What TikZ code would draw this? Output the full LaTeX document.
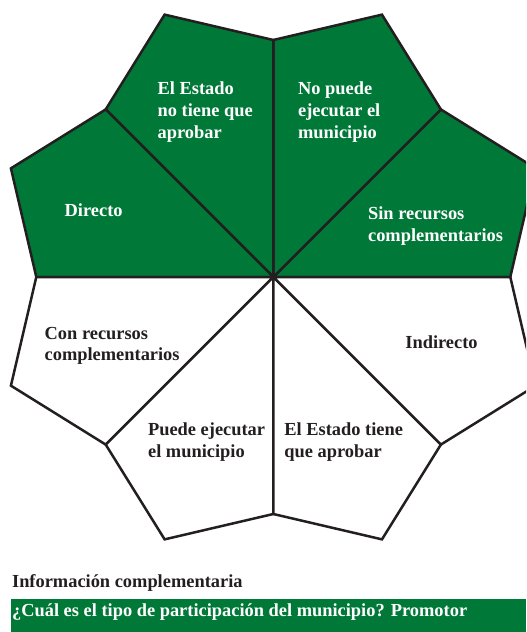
\documentclass[tikz,border=0pt]{standalone}
\usepackage{fontspec}
\setmainfont{Liberation Serif}
\usetikzlibrary{math}
\definecolor{pgreen}{RGB}{0,121,56}
\definecolor{pdark}{RGB}{35,31,32}

\begin{document}
\begin{tikzpicture}[x=0.5pt,y=0.5pt,
  sector/.style={draw=pdark,line width=1.25pt},
  lbl/.style={anchor=west,inner sep=0pt,align=left,font=\bfseries\fontsize{9.2}{10.85}\selectfont}]
\tikzmath{
\rin=237;
\rout=284;
}
\useasboundingbox (-273.3,-355) rectangle (252.7,277);
\clip (-273.3,-355) rectangle (252.7,277);

% green half
\filldraw[sector,fill=pgreen] (0,0) -- (0:\rin) -- (22.5:\rout) -- (45:\rin) -- cycle;
\filldraw[sector,fill=pgreen] (0,0) -- (45:\rin) -- (67.5:\rout) -- (90:\rin) -- cycle;
\filldraw[sector,fill=pgreen] (0,0) -- (90:\rin) -- (112.5:\rout) -- (135:\rin) -- cycle;
\filldraw[sector,fill=pgreen] (0,0) -- (135:\rin) -- (157.5:\rout) -- (180:\rin) -- cycle;
% white half
\filldraw[sector,fill=white] (0,0) -- (180:\rin) -- (202.5:\rout) -- (225:\rin) -- cycle;
\filldraw[sector,fill=white] (0,0) -- (225:\rin) -- (247.5:\rout) -- (270:\rin) -- cycle;
\filldraw[sector,fill=white] (0,0) -- (270:\rin) -- (292.5:\rout) -- (315:\rin) -- cycle;
\filldraw[sector,fill=white] (0,0) -- (315:\rin) -- (337.5:\rout) -- (360:\rin) -- cycle;

\node[lbl,text=white] (directo) at (-209,67) {Directo};
\node[lbl,text=white] (noaprobar) at (-116,165) {El Estado\\no tiene que\\aprobar};
\node[lbl,text=white] (noejecutar) at (24.4,165) {No puede\\ejecutar el\\municipio};
\node[lbl,text=white] (sinrec) at (94.4,51) {Sin recursos\\complementarios};
\node[lbl,text=pdark] (conrec) at (-229,-69) {Con recursos\\complementarios};
\node[lbl,text=pdark] (indirecto) at (131.7,-65) {Indirecto};
\node[lbl,text=pdark] (ejecutar) at (-125.6,-165) {Puede ejecutar\\el municipio};
\node[lbl,text=pdark] (aprobar) at (10.7,-165) {El Estado tiene\\que aprobar};

\node[lbl,anchor=base west,text=pdark] (info) at (-261.6,-310.7) {Información complementaria};
\fill[pgreen] (-262.3,-322.3) rectangle (252.7,-355);
\node[lbl,anchor=base west,text=white] (tipo) at (-261.6,-339.7) {¿Cuál es el tipo de participación del municipio? Promotor};
\end{tikzpicture}
\end{document}
